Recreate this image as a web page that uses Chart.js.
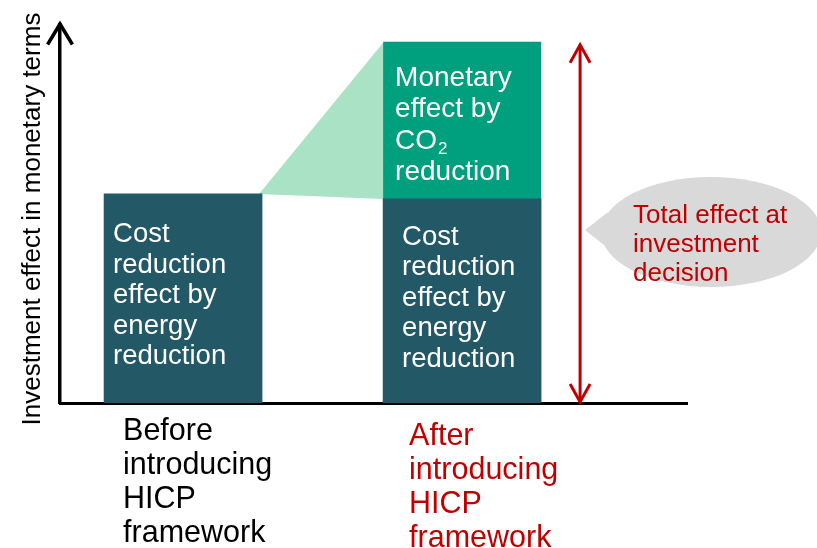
<!DOCTYPE html>
<html>
<head>
<meta charset="utf-8">
<script src="https://cdn.jsdelivr.net/npm/chart.js@4/dist/chart.umd.min.js"></script>
<style>
  html, body { margin: 0; padding: 0; background: #fff; }
  #wrap { width: 817px; height: 548px; position: relative; }
</style>
</head>
<body>
<div id="wrap"><canvas id="chart"></canvas></div>
<script>
// --- data (y in arbitrary money units) ---
const categories = [
  ["Before", "introducing", "HICP", "framework"],
  ["After", "introducing", "HICP", "framework"],
];
const costReduction = [5.0, 4.88];
const co2Effect = [null, 3.76];
const costText = ["Cost", "reduction", "effect by", "energy", "reduction"];
const co2Text = ["Monetary", "effect by", "CO\u2082", "reduction"];
const totalText = ["Total effect at", "investment", "decision"];
const yTitle = "Investment effect in monetary terms";

const DARK = "#235866";
const GREEN = "#00A07E";
const LIGHT = "#A9E2C5";
const RED = "#C00000";
const FONT = '"Liberation Sans", Arial, sans-serif';

// draw lines of text, handles the CO2 subscript
function drawLines(ctx, lines, x, yMid, lh, size, color) {
  ctx.save();
  ctx.fillStyle = color;
  ctx.textAlign = "left";
  ctx.textBaseline = "middle";
  const y0 = yMid - (lh * (lines.length - 1)) / 2;
  lines.forEach((line, i) => {
    const y = y0 + i * lh;
    ctx.font = size + "px " + FONT;
    const k = line.indexOf("\u2082");
    if (k >= 0) {
      const head = line.slice(0, k);
      ctx.fillText(head, x, y);
      const w = ctx.measureText(head).width;
      ctx.font = Math.round(size * 0.62) + "px " + FONT;
      ctx.fillText("2", x + w + 1, y + size * 0.3);
    } else {
      ctx.fillText(line, x, y);
    }
  });
  ctx.restore();
}

function arrowHead(ctx, x, y, dir, w, len) {
  ctx.beginPath();
  ctx.moveTo(x - w, y + dir * len);
  ctx.lineTo(x, y);
  ctx.lineTo(x + w, y + dir * len);
  ctx.stroke();
}

const decor = {
  id: "decor",
  beforeDatasetsDraw(chart) {
    const ctx = chart.ctx;
    const cost = chart.getDatasetMeta(0).data;
    const co2 = chart.getDatasetMeta(1).data;
    const a = cost[0], b = co2[1], c = cost[1];
    // light green fan from the old bar to the new CO2 block
    ctx.save();
    ctx.fillStyle = LIGHT;
    ctx.beginPath();
    ctx.moveTo(a.x + a.width / 2 - 3, a.y);
    ctx.lineTo(b.x - b.width / 2, b.y + 1);
    ctx.lineTo(c.x - c.width / 2, c.y);
    ctx.closePath();
    ctx.fill();
    ctx.restore();
  },
  afterDatasetsDraw(chart) {
    const ctx = chart.ctx;
    const area = chart.chartArea;
    const yScale = chart.scales.y;
    const cost = chart.getDatasetMeta(0).data;
    const co2 = chart.getDatasetMeta(1).data;

    // y-axis arrow head
    ctx.save();
    ctx.strokeStyle = "#000";
    ctx.lineWidth = 3.5;
    ctx.lineCap = "square";
    arrowHead(ctx, area.left, area.top - 1, 1, 11.5, 19);
    ctx.restore();

    // y-axis title
    ctx.save();
    ctx.translate(33, 219);
    ctx.rotate(-Math.PI / 2);
    ctx.font = "26px " + FONT;
    ctx.fillStyle = "#000";
    ctx.textAlign = "center";
    ctx.textBaseline = "middle";
    ctx.fillText(yTitle, 0, 0);
    ctx.restore();

    // text inside the bars
    cost.forEach((bar, i) => {
      const left = bar.x - bar.width / 2;
      const mid = (bar.y + bar.base) / 2 - 3;
      drawLines(ctx, costText, left + (i === 0 ? 9 : 19), mid, 30.5, 27.5, "#fff");
    });
    const g = co2[1];
    drawLines(ctx, co2Text, g.x - g.width / 2 + 12, (g.y + g.base) / 2 + 5, 31.3, 28, "#fff");

    // category labels under the axis
    const indent = [19, 26];
    const top = [440, 445];
    cost.forEach((bar, i) => {
      ctx.save();
      ctx.font = "30.5px " + FONT;
      ctx.fillStyle = i === 0 ? "#000" : RED;
      ctx.textAlign = "left";
      ctx.textBaseline = "alphabetic";
      categories[i].forEach((line, j) => {
        ctx.fillText(line, bar.x - bar.width / 2 + indent[i], top[i] + j * 34);
      });
      ctx.restore();
    });

    // red double arrow for the total
    const ax = g.x + g.width / 2 + 39;
    const yTop = g.y + 3;
    const yBot = yScale.getPixelForValue(0) - 1;
    ctx.save();
    ctx.strokeStyle = RED;
    ctx.lineWidth = 3;
    ctx.beginPath();
    ctx.moveTo(ax, yTop);
    ctx.lineTo(ax, yBot);
    ctx.stroke();
    arrowHead(ctx, ax, yTop, 1, 10, 18);
    arrowHead(ctx, ax, yBot, -1, 10, 18);
    ctx.restore();

    // speech bubble
    const cx = ax + 131, cy = 232;
    ctx.save();
    ctx.fillStyle = "#D9D9D9";
    ctx.beginPath();
    ctx.ellipse(cx, cy, 110, 55, 0, 0, Math.PI * 2);
    ctx.fill();
    ctx.beginPath();
    ctx.moveTo(ax + 28, 212);
    ctx.lineTo(ax + 5, 230);
    ctx.lineTo(ax + 30, 250);
    ctx.closePath();
    ctx.fill();
    ctx.restore();
    drawLines(ctx, totalText, ax + 53, 245, 29, 26, RED);
  },
};

new Chart(document.getElementById("chart"), {
  type: "bar",
  data: {
    datasets: [
      {
        label: "Cost reduction effect by energy reduction",
        data: costReduction.map((v, i) => ({ x: i + 1, y: v })),
        backgroundColor: DARK,
        borderWidth: 0,
      },
      {
        label: "Monetary effect by CO2 reduction",
        data: co2Effect.map((v, i) => ({ x: i + 1, y: v })),
        backgroundColor: GREEN,
        borderColor: "#0C9389",
        borderWidth: { top: 2, right: 1, left: 0, bottom: 0 },
        borderSkipped: false,
      },
    ],
  },
  options: {
    responsive: true,
    maintainAspectRatio: false,
    animation: false,
    barThickness: 158,
    layout: { padding: { left: 60, right: 130, top: 25, bottom: 145 } },
    plugins: { legend: { display: false }, tooltip: { enabled: false } },
    scales: {
      x: {
        type: "linear",
        stacked: true,
        offset: false,
        min: 0.559,
        max: 2.806,
        grid: { display: false, drawTicks: false, offset: false },
        ticks: { display: false },
        border: { display: true, color: "#000", width: 3 },
      },
      y: {
        stacked: true,
        min: 0,
        max: 9.04,
        grid: { display: false, drawTicks: false },
        ticks: { display: false },
        border: { display: true, color: "#000", width: 3.5 },
      },
    },
  },
  plugins: [decor],
});
</script>
</body>
</html>
